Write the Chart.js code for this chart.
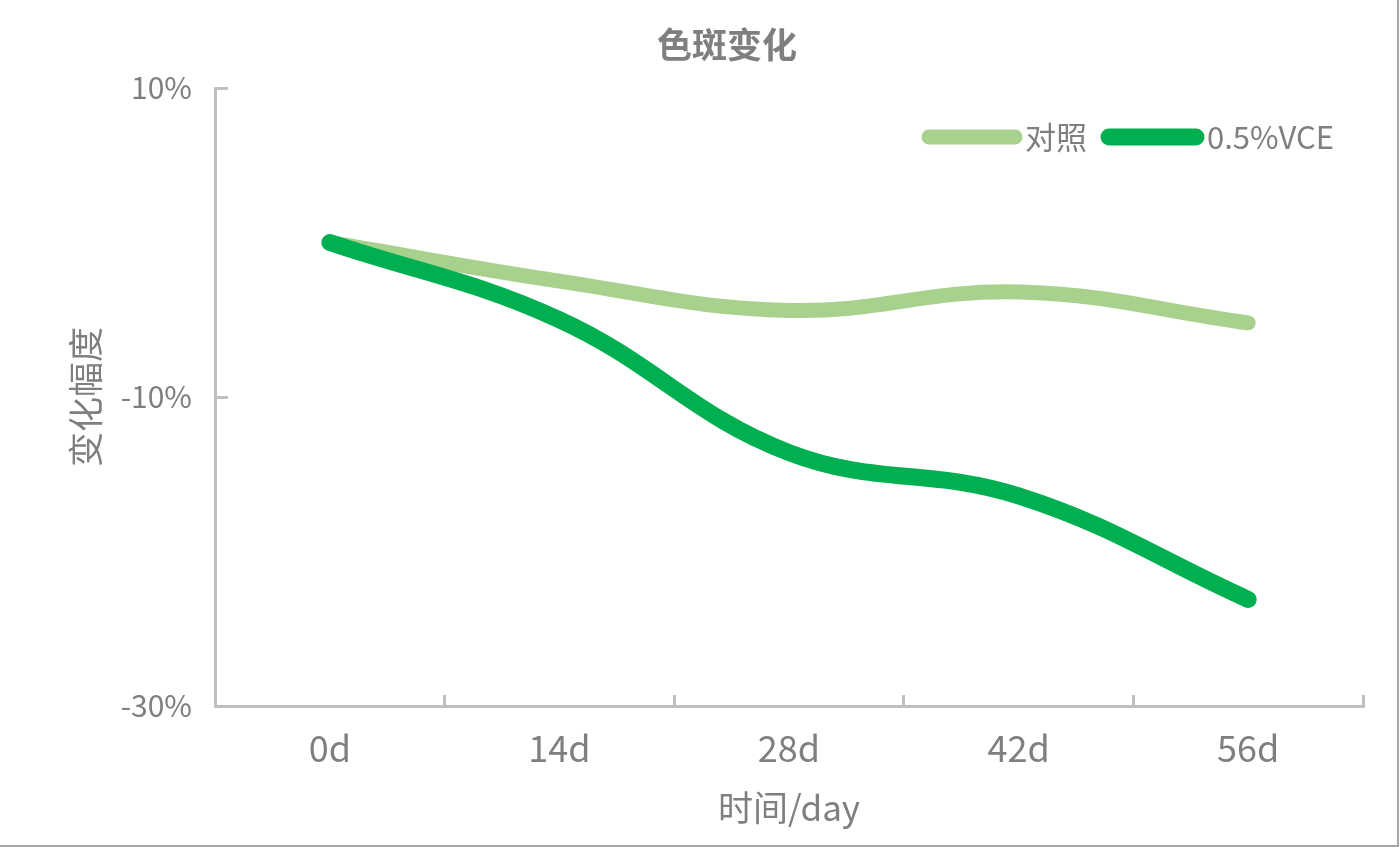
<!DOCTYPE html>
<html><head><meta charset="utf-8">
<script src="https://cdn.jsdelivr.net/npm/chart.js@4.4.1/dist/chart.umd.min.js"></script>
<style>
html,body{margin:0;padding:0;background:#fff;overflow:hidden}
#wrap{position:relative;width:1400px;height:847px}
#frame{position:absolute;left:0;top:0;width:1397px;height:845px;border-right:2px solid #a6a6a6;border-bottom:2px solid #a6a6a6;pointer-events:none;box-sizing:content-box}
canvas{display:block}
</style></head><body>
<div id="wrap"><canvas id="c" width="1400" height="847"></canvas><div id="frame"></div></div>
<script>
const chartTitle = '色斑变化';
const categories = ['0d', '14d', '28d', '42d', '56d'];
const seriesNames = ['对照', '0.5%VCE'];
const controlValues = [0, -2.5, -4.4, -3.2, -5.2];
const vceValues = [0, -5.0, -13.6, -16.4, -23.1];
const yMin = -30, yMax = 10, yStep = 20;
const xAxisTitle = '时间/day';
const yAxisTitle = '变化幅度';

const FONT = '"Noto Sans CJK SC", "Noto Sans", sans-serif';
const TEXT = '#7f7f7f';
const AXIS = '#bfbfbf';

const titlePlugin = {
  id: 'titleP',
  afterDraw(chart) {
    const ctx = chart.ctx;
    ctx.save();
    ctx.font = 'bold 35px ' + FONT;
    ctx.fillStyle = TEXT;
    ctx.textAlign = 'center';
    ctx.textBaseline = 'middle';
    ctx.fillText(chartTitle, 727, 45);
    ctx.restore();
  }
};

const legendPlugin = {
  id: 'legendP',
  afterDraw(chart) {
    const ctx = chart.ctx;
    const y = 137;
    const layout = [{x1: 929, x2: 1015, tx: 1025}, {x1: 1109, x2: 1196, tx: 1207}];
    ctx.save();
    chart.data.datasets.forEach((ds, i) => {
      const p = layout[i];
      ctx.beginPath();
      ctx.lineCap = 'round';
      ctx.strokeStyle = ds.borderColor;
      ctx.lineWidth = ds.borderWidth;
      ctx.moveTo(p.x1, y);
      ctx.lineTo(p.x2, y);
      ctx.stroke();
      ctx.font = '31px ' + FONT;
      ctx.fillStyle = TEXT;
      ctx.textAlign = 'left';
      ctx.textBaseline = 'middle';
      ctx.fillText(ds.label, p.tx, y);
    });
    ctx.restore();
  }
};

new Chart(document.getElementById('c'), {
  type: 'line',
  data: {
    labels: categories,
    datasets: [
      {label: seriesNames[0], data: controlValues, borderColor: '#a9d18e', backgroundColor: '#a9d18e', order: 1,
       borderWidth: 15, pointRadius: 0, tension: 0.4, borderCapStyle: 'round', borderJoinStyle: 'round', fill: false},
      {label: seriesNames[1], data: vceValues, borderColor: '#00b050', backgroundColor: '#00b050', order: 0,
       borderWidth: 17, pointRadius: 0, tension: 0.4, borderCapStyle: 'round', borderJoinStyle: 'round', fill: false}
    ]
  },
  options: {
    responsive: false,
    animation: false,
    layout: {padding: {top: 88, right: 37, left: 0, bottom: 0}},
    plugins: {legend: {display: false}, title: {display: false}, tooltip: {enabled: false}},
    scales: {
      x: {
        offset: true,
        grid: {offset: true, drawOnChartArea: false, drawTicks: true, tickLength: -11, color: AXIS, lineWidth: 3},
        border: {display: true, color: AXIS, width: 3},
        ticks: {color: TEXT, font: {family: FONT, size: 36}, padding: 32, maxRotation: 0},
        title: {display: true, text: xAxisTitle, color: TEXT, font: {family: FONT, size: 35}, padding: {top: 0, bottom: 18}},
        afterFit(s) { s.height = 141; }
      },
      y: {
        min: yMin, max: yMax,
        grid: {drawOnChartArea: false, drawTicks: true, tickLength: -13, color: AXIS, lineWidth: 3},
        border: {display: true, color: AXIS, width: 3},
        ticks: {stepSize: yStep, color: TEXT, font: {family: FONT, size: 30}, padding: 36, callback: v => v + '%'},
        title: {display: true, text: yAxisTitle, color: TEXT, font: {family: FONT, size: 35}, padding: {top: 65, bottom: 0}},
        afterFit(s) { s.width = 215; }
      }
    }
  },
  plugins: [titlePlugin, legendPlugin]
});
</script>
</body></html>
